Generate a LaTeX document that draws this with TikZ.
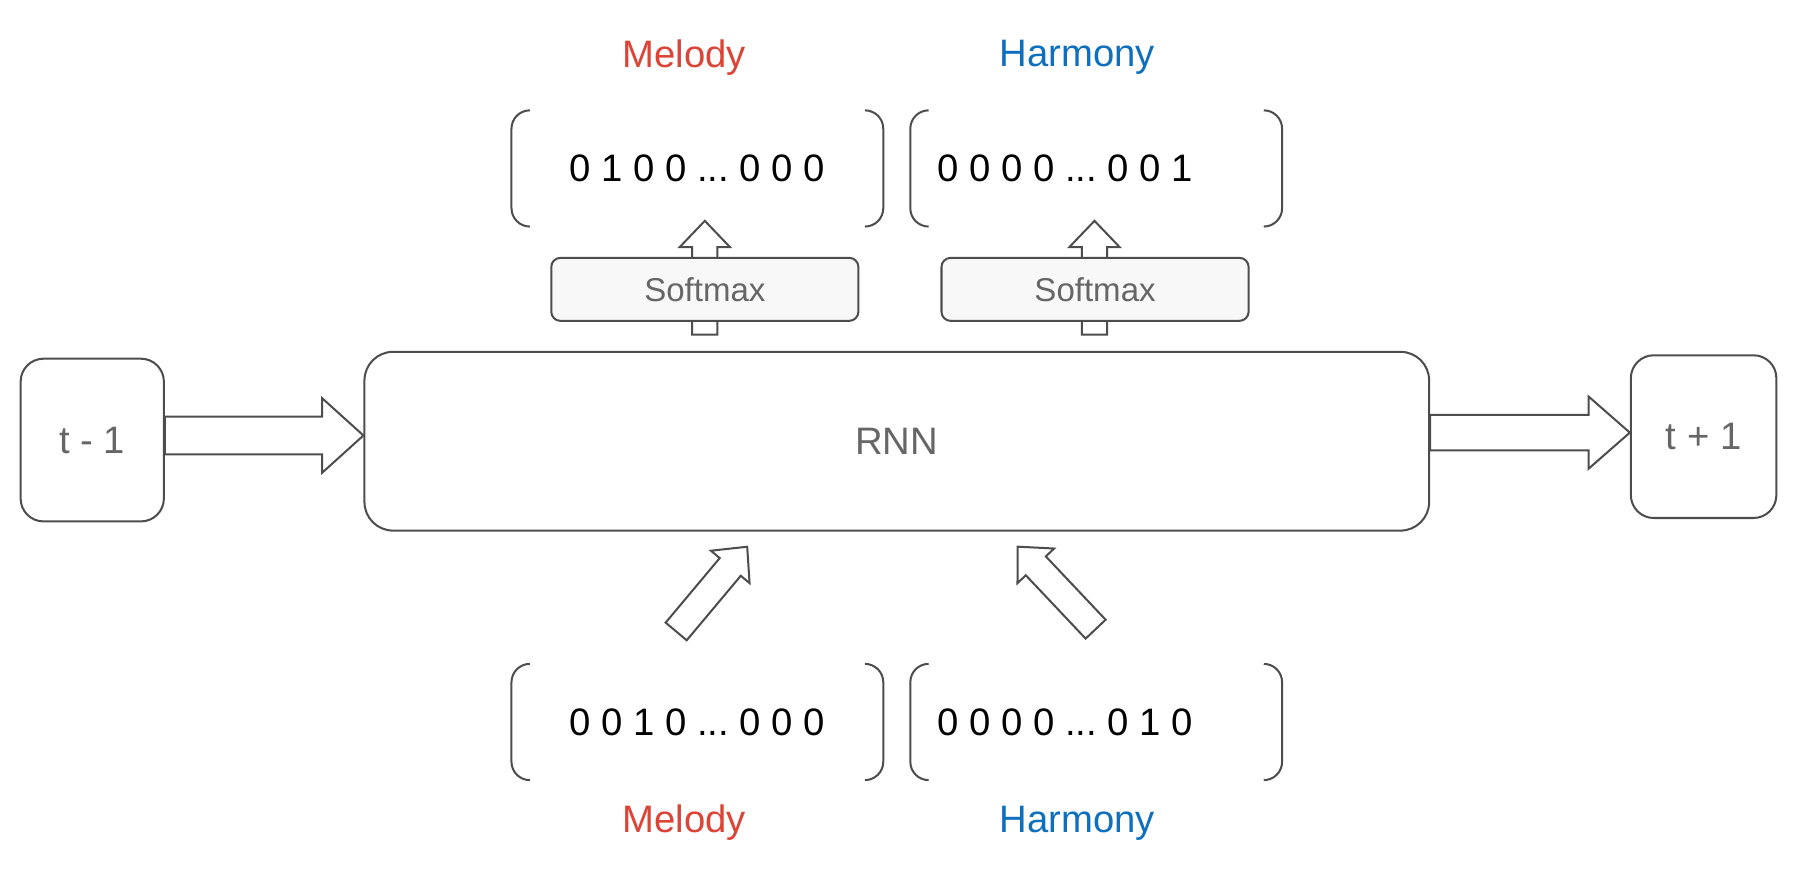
\documentclass[tikz,border=0pt]{standalone}
\usepackage{fontspec}
\setmainfont{Liberation Sans}
\usetikzlibrary{calc}

\definecolor{linegray}{HTML}{4D4D4D}
\definecolor{textgray}{HTML}{666666}
\definecolor{boxfill}{HTML}{F8F8F8}
\definecolor{melred}{HTML}{DB4437}
\definecolor{harblue}{HTML}{0F6FBF}

% hollow block arrow: shaft half width, head half width, head length, from, to
\newcommand{\fatarrow}[5]{%
  \draw[fat] let \p1=(#4), \p2=(#5),
    \n1={atan2(\y2-\y1,\x2-\x1)}, \n2={veclen(\x2-\x1,\y2-\y1)} in
    [shift={(\p1)}, rotate=\n1]
    (0pt,-#1) -- (\n2-#3,-#1) -- (\n2-#3,-#2) -- (\n2,0pt) -- (\n2-#3,#2) -- (\n2-#3,#1) -- (0pt,#1) -- cycle;}

\begin{document}
\begin{tikzpicture}[
  stepbox/.style={rectangle, rounded corners=0.2cm, draw=linegray, line width=0.5pt, text=textgray, font=\fontsize{9.5}{11}\selectfont},
  softbox/.style={rectangle, rounded corners=0.08cm, draw=linegray, line width=0.5pt, fill=boxfill, minimum width=2.68cm, minimum height=0.55cm, text=textgray, font=\fontsize{8.2}{10}\selectfont},
  vecbox/.style={rectangle, minimum width=3.23cm, minimum height=1cm, inner sep=0pt, font=\fontsize{9.5}{11}\selectfont\frenchspacing},
  bracket/.style={draw=linegray, line width=0.5pt, rounded corners=0.16cm},
  fat/.style={draw=linegray, line width=0.5pt, fill=white, line join=miter},
  mel/.style={text=melred, font=\fontsize{9.5}{11}\selectfont},
  har/.style={text=harblue, font=\fontsize{9.5}{11}\selectfont}
]
\useasboundingbox (0,0) rectangle (15.68,7.80);

\node[stepbox, minimum width=1.25cm, minimum height=1.42cm] (prev) at (0.805,3.96) {t - 1};
\node[stepbox, rounded corners=0.25cm, minimum width=9.29cm, minimum height=1.56cm] (rnn) at (7.825,3.95) {RNN};
\node[stepbox, minimum width=1.27cm, minimum height=1.42cm] (next) at (14.865,3.99) {t + 1};

% one-hot vectors
\node[vecbox] (outmel) at (6.085,6.33) {0 1 0 0 ... 0 0 0};
\node[vecbox] (outhar) at (9.565,6.33) {\makebox[2.77cm][l]{0 0 0 0 ... 0 0 1}};
\node[vecbox] (inmel) at (6.085,1.50) {0 0 1 0 ... 0 0 0};
\node[vecbox] (inhar) at (9.565,1.50) {\makebox[2.77cm][l]{0 0 0 0 ... 0 1 0}};

\draw[bracket] ([xshift=0.16cm]outmel.north west) -| (outmel.south west) -- ++(0.16,0)
  ([xshift=-0.16cm]outmel.north east) -| (outmel.south east) -- ++(-0.16,0);
\draw[bracket] ([xshift=0.16cm]outhar.north west) -| (outhar.south west) -- ++(0.16,0)
  ([xshift=-0.16cm]outhar.north east) -| (outhar.south east) -- ++(-0.16,0);
\draw[bracket] ([xshift=0.16cm]inmel.north west) -| (inmel.south west) -- ++(0.16,0)
  ([xshift=-0.16cm]inmel.north east) -| (inmel.south east) -- ++(-0.16,0);
\draw[bracket] ([xshift=0.16cm]inhar.north west) -| (inhar.south west) -- ++(0.16,0)
  ([xshift=-0.16cm]inhar.north east) -| (inhar.south east) -- ++(-0.16,0);

\node[mel] (melouttxt) at (5.97,7.30) {Melody};
\node[har] (harouttxt) at (9.40,7.30) {Harmony};
\node[mel] (melintxt) at (5.97,0.62) {Melody};
\node[har] (harintxt) at (9.40,0.62) {Harmony};

% arrow ends
\coordinate (melup) at (6.15,4.88);
\coordinate (harup) at (9.55,4.88);
\coordinate (melfoot) at (5.90,2.29);
\coordinate (meltip) at (6.52,3.03);
\coordinate (harfoot) at (9.56,2.31);
\coordinate (hartip) at (8.88,3.03);

\fatarrow{0.11cm}{0.22cm}{0.23cm}{melup}{$(outmel.south -| melup)+(0,0.05)$}
\fatarrow{0.11cm}{0.22cm}{0.23cm}{harup}{$(outhar.south -| harup)+(0,0.05)$}
\fatarrow{0.12cm}{0.22cm}{0.23cm}{melfoot}{meltip}
\fatarrow{0.12cm}{0.22cm}{0.23cm}{harfoot}{hartip}
\fatarrow{0.165cm}{0.325cm}{0.36cm}{[yshift=0.04cm]prev.east}{[yshift=0.05cm]rnn.west}
\fatarrow{0.155cm}{0.315cm}{0.36cm}{[yshift=0.075cm]rnn.east}{[yshift=0.035cm]next.west}

\node[softbox] (smmel) at (6.15,5.275) {Softmax};
\node[softbox] (smhar) at (9.555,5.275) {Softmax};
\end{tikzpicture}
\end{document}
